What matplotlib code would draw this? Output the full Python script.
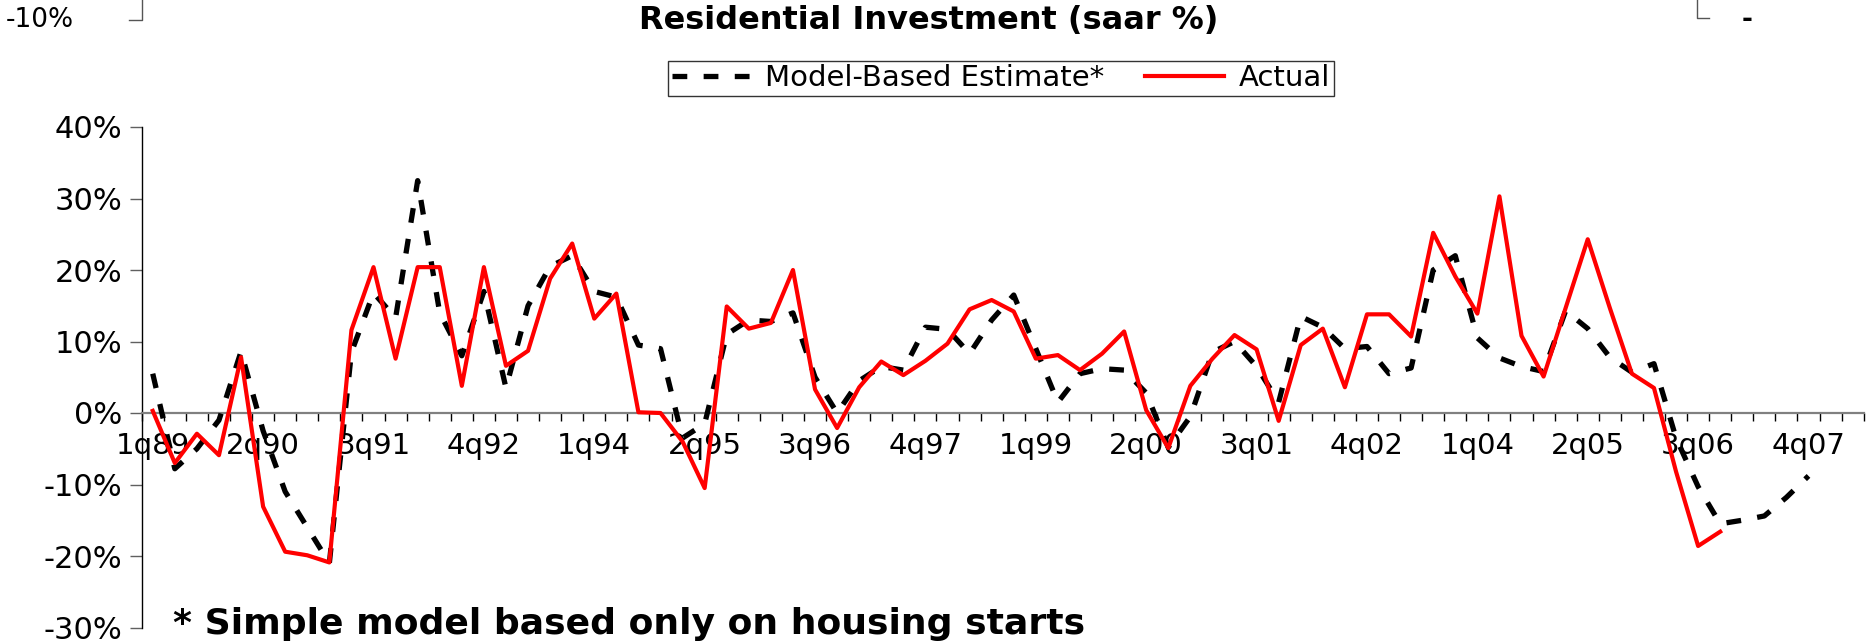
import numpy as np
import matplotlib
matplotlib.use("Agg")
import matplotlib.pyplot as plt
from matplotlib.lines import Line2D

# quarterly categories 1q89 .. 2q08
n_quarters = 78
tick_labels = ['1q89', '2q90', '3q91', '4q92', '1q94', '2q95', '3q96', '4q97',
               '1q99', '2q00', '3q01', '4q02', '1q04', '2q05', '3q06', '4q07']
tick_every = 5

# Residential investment, saar %
actual = [0.3, -7.0, -2.9, -5.9, 7.8, -13.1, -19.4, -19.9, -20.9, 11.6,
          20.4, 7.6, 20.4, 20.4, 3.8, 20.4, 6.6, 8.7, 18.8, 23.7,
          13.2, 16.7, 0.1, 0.0, -4.0, -10.5, 14.9, 11.8, 12.6, 20.0,
          3.3, -2.1, 3.6, 7.2, 5.3, 7.3, 9.7, 14.5, 15.8, 14.2,
          7.6, 8.1, 6.0, 8.3, 11.4, 0.4, -4.9, 3.8, 7.6, 10.9,
          8.9, -1.1, 9.5, 11.8, 3.6, 13.8, 13.8, 10.7, 25.2, 19.1,
          13.9, 30.3, 10.8, 5.1, 14.7, 24.3, 14.7, 5.5, 3.5, -8.2,
          -18.6, -16.6]

model = [5.5, -7.8, -5.0, -1.0, 8.6, -2.5, -11.0, -16.0, -21.0, 8.5,
         16.8, 13.3, 32.5, 14.0, 8.0, 17.0, 3.5, 15.0, 20.5, 22.0,
         17.0, 16.2, 9.5, 9.0, -3.5, -1.5, 11.0, 13.0, 12.8, 14.0,
         5.0, 0.0, 4.5, 6.5, 6.0, 12.0, 11.7, 8.3, 13.0, 16.5,
         9.0, 1.5, 5.5, 6.2, 6.0, 2.8, -4.8, -0.5, 8.5, 10.0,
         6.5, 1.5, 13.5, 12.0, 9.0, 9.3, 5.5, 6.3, 20.0, 22.0,
         10.5, 7.7, 6.5, 5.8, 14.3, 11.8, 7.8, 5.7, 6.9, -3.5,
         -10.3, -15.5, -15.0, -14.4, -11.8, -8.8]

y_ticks = [-30, -20, -10, 0, 10, 20, 30, 40]
y_labels = ['-30%', '-20%', '-10%', '0%', '10%', '20%', '30%', '40%']

plt.rcParams['font.family'] = ['DejaVu Sans']

W, H = 1868, 642
fig = plt.figure(figsize=(W / 100, H / 100), dpi=100)
ax = fig.add_axes([141.7 / W, (H - 627.5) / H, 1722 / W, 500.5 / H])

ax.plot(np.arange(len(model)), model, color='black', lw=3.8, dashes=(2.8, 3.1),
        label='Model-Based Estimate*', zorder=3)
ax.plot(np.arange(len(actual)), actual, color='#ff0000', lw=3.0,
        label='Actual', zorder=4)

ax.set_xlim(-0.5, n_quarters - 0.5)
ax.set_ylim(-30, 40)

ax.spines['top'].set_visible(False)
ax.spines['right'].set_visible(False)
ax.spines['bottom'].set_position(('data', 0))
ax.spines['bottom'].set_color('#808080')
ax.spines['bottom'].set_linewidth(1.6)
ax.spines['left'].set_color('black')
ax.spines['left'].set_linewidth(1.0)

ax.set_yticks(y_ticks)
ax.set_yticklabels(y_labels, fontsize=22)
ax.tick_params(axis='y', length=9, width=1, color='#606060', direction='out', pad=5)

# tick marks at category boundaries, labels every 5 quarters
ax.set_xticks(np.arange(n_quarters + 1) - 0.5)
ax.set_xticklabels([])
ax.tick_params(axis='x', which='major', length=6, width=1, color='black', direction='out')
ax.set_xticks(np.arange(len(tick_labels)) * tick_every, minor=True)
ax.set_xticklabels(tick_labels, minor=True, fontsize=21)
ax.tick_params(axis='x', which='minor', length=0, pad=14)

leg = fig.legend(loc='center', bbox_to_anchor=(1001 / W, 1 - 78 / H), ncol=2,
                 fontsize=21, frameon=True, fancybox=False, handlelength=2.7,
                 handletextpad=0.5, columnspacing=1.4, borderpad=0.12,
                 borderaxespad=0)
leg.get_frame().set_edgecolor('black')
leg.get_frame().set_linewidth(1.0)

fig.text(929 / W, 1 - 20 / H, 'Residential Investment (saar %)', ha='center',
         va='center', fontsize=23, fontweight='bold')
fig.text(173 / W, 8 / H, '* Simple model based only on housing starts',
         ha='left', va='baseline', fontsize=26, fontweight='bold')

# leftovers of the chart above, cut by the crop
fig.text(74 / W, 1 - 20 / H, '-10%', ha='right', va='center', fontsize=19)
fig.add_artist(Line2D([142 / W, 142 / W, 129 / W], [1, 1 - 20 / H, 1 - 20 / H],
                      color='#555555', lw=1.0))
fig.add_artist(Line2D([1697 / W, 1697 / W, 1709 / W], [1, 1 - 18 / H, 1 - 18 / H],
                      color='#555555', lw=1.0))
fig.text(1747 / W, 1 - 20 / H, '-', ha='center', va='center', fontsize=19,
         fontweight='bold')

fig.savefig('out.png', dpi=100)
